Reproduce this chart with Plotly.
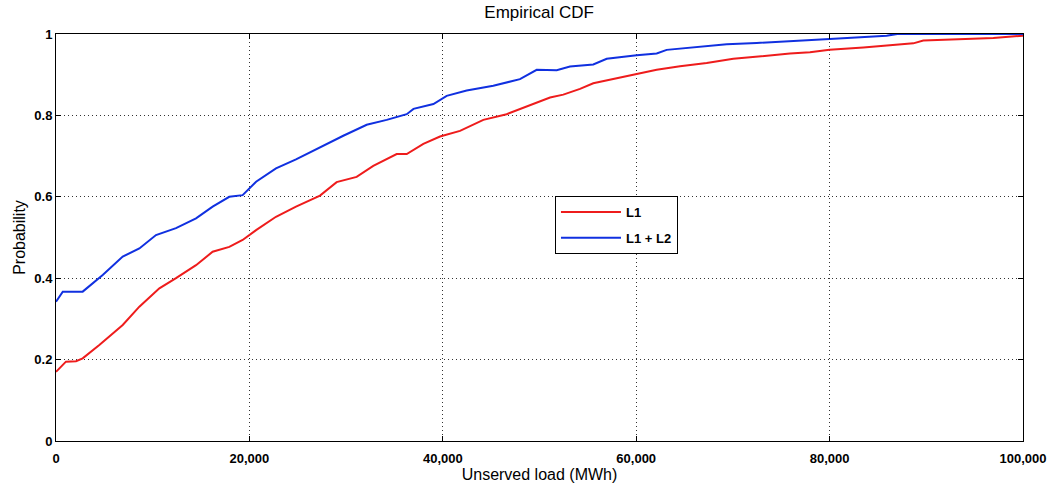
import plotly.graph_objects as go

# Unserved load (MWh) and empirical CDF values
x_l1 = [0, 1030, 2070, 2760, 4480, 6900, 8620, 10690, 12410, 14480, 16200, 17920, 19300,
        20690, 22750, 24820, 27300, 29020, 31090, 32810, 35230, 36270, 37990, 39710, 41780,
        44190, 46600, 49360, 51090, 52460, 54190, 55560, 57630, 60050, 62120, 64530, 67290,
        70040, 72460, 75900, 77970, 80000, 83490, 88660, 89690, 93830, 96930, 100000]
p_l1 = [0.170, 0.195, 0.196, 0.203, 0.236, 0.285, 0.330, 0.375, 0.400, 0.432, 0.465, 0.477,
        0.494, 0.518, 0.551, 0.576, 0.603, 0.636, 0.649, 0.676, 0.705, 0.705, 0.730, 0.748,
        0.762, 0.789, 0.803, 0.828, 0.844, 0.851, 0.865, 0.879, 0.889, 0.902, 0.912, 0.921,
        0.929, 0.939, 0.945, 0.952, 0.955, 0.961, 0.967, 0.977, 0.984, 0.988, 0.990, 0.996]

x_l12 = [0, 700, 2760, 4830, 6900, 8620, 10340, 12410, 14480, 16200, 17920, 19300, 20690,
         22750, 24820, 27300, 29710, 32130, 34200, 36270, 36970, 39030, 40400, 42470, 45220,
         47980, 49710, 51780, 53150, 55560, 56950, 60050, 62120, 63150, 66600, 69360, 72460,
         75900, 80000, 85900, 87000, 100000]
p_l12 = [0.342, 0.367, 0.367, 0.408, 0.453, 0.473, 0.506, 0.523, 0.547, 0.576, 0.600, 0.604,
         0.637, 0.670, 0.692, 0.722, 0.750, 0.777, 0.789, 0.803, 0.816, 0.828, 0.848, 0.861,
         0.873, 0.889, 0.912, 0.911, 0.920, 0.925, 0.939, 0.948, 0.952, 0.961, 0.969, 0.975,
         0.978, 0.982, 0.988, 0.996, 1.0, 1.0]

x_ticks = [0, 20000, 40000, 60000, 80000, 100000]
y_ticks = [0, 0.2, 0.4, 0.6, 0.8, 1]
y_tick_labels = ["0", "0.2", "0.4", "0.6", "0.8", "1"]

tick_font = dict(family="Liberation Sans, Arial, sans-serif",
                 size=13, color="black", weight="bold")
label_font = dict(family="Liberation Sans, Arial, sans-serif", size=16, color="black")

fig = go.Figure()
fig.add_trace(go.Scatter(x=x_l1, y=p_l1, mode="lines", name="L1", legendgroup="a",
                         line=dict(color="#ee1c1c", width=2)))
fig.add_trace(go.Scatter(x=x_l12, y=p_l12, mode="lines", name="L1 + L2", legendgroup="b",
                         line=dict(color="#1030e0", width=2)))

axis_common = dict(showline=True, linecolor="black", linewidth=1, mirror="ticks",
                   ticks="inside", ticklen=5, tickcolor="black",
                   showgrid=True, gridcolor="#333333", griddash="1px,3px", gridwidth=1,
                   zeroline=False, tickfont=tick_font)

fig.update_xaxes(range=[0, 100000], tickvals=x_ticks, tickformat=",d",
                 ticklabelstandoff=5,
                 title=dict(text="Unserved load (MWh)", font=label_font, standoff=0),
                 **axis_common)
fig.update_yaxes(range=[0, 1], tickvals=y_ticks, ticktext=y_tick_labels,
                 title=dict(text="Probability", font=label_font, standoff=4),
                 **axis_common)

fig.update_layout(
    width=1052, height=484,
    margin=dict(l=56, r=29, t=34, b=43, autoexpand=False),
    paper_bgcolor="white", plot_bgcolor="white",
    title=dict(text="Empirical CDF", x=0.5125, xanchor="center", y=1 - 12 / 484,
               yanchor="middle", yref="container",
               font=dict(family="Liberation Sans, Arial, sans-serif", size=17, color="black")),
    legend=dict(x=0.516, y=0.602, xanchor="left", yanchor="top",
                bgcolor="white", bordercolor="black", borderwidth=1,
                font=tick_font, itemwidth=60, entrywidth=86,
                tracegroupgap=6),
    showlegend=True,
)

fig.write_html("out.html", config={"displayModeBar": False},
               post_script="document.body.style.margin='0';document.body.style.overflow='hidden';")
